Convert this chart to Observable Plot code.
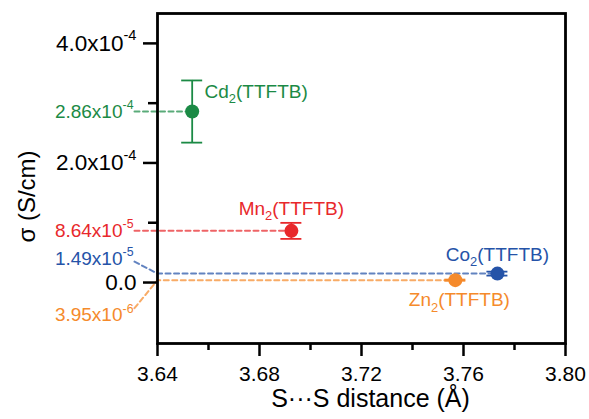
<!DOCTYPE html>
<html>
<head>
<meta charset="utf-8">
<script src="https://cdn.jsdelivr.net/npm/d3@7"></script>
<script src="https://cdn.jsdelivr.net/npm/@observablehq/plot@0.6"></script>
<style>
  html, body { margin: 0; padding: 0; background: #fff; }
  #chart svg { display: block; }
</style>
</head>
<body>
<div id="chart"></div>
<script>
// ---- data ----
const compounds = ["Cd_2(TTFTB)", "Mn_2(TTFTB)", "Co_2(TTFTB)", "Zn_2(TTFTB)"];
const distances = [3.6536, 3.6925, 3.7733, 3.7568];
const sigma = [2.86e-4, 8.64e-5, 1.49e-5, 3.95e-6];
const sigmaErr = [5.2e-5, 1.34e-5, 3.3e-6, 1.0e-6];
const sigmaLabels = ["2.86x10^-4", "8.64x10^-5", "1.49x10^-5", "3.95x10^-6"];
const colors = ["#1b8a45", "#e8282b", "#2553a8", "#f58a2b"];

const xTicks = [3.64, 3.68, 3.72, 3.76, 3.80];
const xMinorTicks = [3.66, 3.70, 3.74, 3.78];
const yTicks = [0, 2e-4, 4e-4];
const yTickLabels = ["0.0", "2.0x10^-4", "4.0x10^-4"];
const yMinorTicks = [1e-4, 3e-4];

const xTitle = "S···S distance (Å)";
const yTitle = "σ (S/cm)";

// ---- layout (pixels) ----
const W = 589, H = 419;
const margin = {top: 13, right: 24, bottom: 76, left: 157};
const xDomain = [3.64, 3.80];
const yDomain = [-1.02e-4, 4.5e-4];
const kx = (xDomain[1] - xDomain[0]) / (W - margin.left - margin.right);
const ky = (yDomain[1] - yDomain[0]) / (H - margin.top - margin.bottom);

const nameDx = [64, 0, 0, 4];
const nameDy = [-20, -22, -19, 20];
const valueLabelDx = -24;
const valueDy = [0, 0, -15, 35];
const guideStartDx = -23;
const guideStartDy = [0, 0, -12, 28];
const capHalf = 10.5;

const data = compounds.map((name, i) => ({
  name, i, x: distances[i], y: sigma[i], err: sigmaErr[i],
  label: sigmaLabels[i], color: colors[i]
}));

const guides = data.flatMap(d => [
  {name: d.name, color: d.color, x: xDomain[0] + guideStartDx * kx, y: d.y - guideStartDy[d.i] * ky},
  {name: d.name, color: d.color, x: xDomain[0], y: d.y},
  {name: d.name, color: d.color, x: d.x, y: d.y}
]);

const chart = Plot.plot({
  width: W, height: H,
  marginTop: margin.top, marginRight: margin.right,
  marginBottom: margin.bottom, marginLeft: margin.left,
  style: {fontFamily: "'Liberation Sans', Arial, sans-serif", fontSize: "21px", color: "black", background: "white", overflow: "visible"},
  x: {domain: xDomain},
  y: {domain: yDomain},
  color: {type: "identity"},
  marks: [
    Plot.line(guides, {x: "x", y: "y", z: "name", stroke: "color", strokeWidth: 2, strokeOpacity: 0.72, strokeDasharray: "5,3.5"}),
    Plot.frame({stroke: "black", strokeWidth: 2.8}),
    Plot.axisX(xTicks, {tickSize: 13, tickPadding: 10, tickFormat: d3.format(".2f"), fontSize: 21, strokeWidth: 2.5, label: null}),
    Plot.axisX(xMinorTicks, {tickSize: 7, tickFormat: () => "", strokeWidth: 2.5, label: null}),
    Plot.axisY(yTicks, {tickSize: 14, tickPadding: 7, tickFormat: d => yTickLabels[yTicks.indexOf(d)], fontSize: 22.5, strokeWidth: 2.5, label: null}),
    Plot.axisY(yMinorTicks, {tickSize: 9, tickFormat: () => "", strokeWidth: 2.5, label: null}),
    Plot.ruleX(data, {x: "x", y1: d => d.y - d.err, y2: d => d.y + d.err, stroke: "color", strokeWidth: 1.8}),
    Plot.ruleY(data, {y: d => d.y + d.err, x1: d => d.x - capHalf * kx, x2: d => d.x + capHalf * kx, stroke: "color", strokeWidth: 1.8}),
    Plot.ruleY(data, {y: d => d.y - d.err, x1: d => d.x - capHalf * kx, x2: d => d.x + capHalf * kx, stroke: "color", strokeWidth: 1.8}),
    Plot.dot(data, {x: "x", y: "y", r: 7, fill: "color", stroke: null}),
    Plot.text(data, {x: d => d.x + nameDx[d.i] * kx, y: d => d.y - nameDy[d.i] * ky, text: "name", fill: "color", fontSize: 19, textAnchor: "middle"}),
    Plot.text(data, {x: xDomain[0] + valueLabelDx * kx, y: d => d.y - valueDy[d.i] * ky, text: "label", fill: "color", fontSize: 19, textAnchor: "end"}),
    Plot.text([xTitle], {frameAnchor: "bottom", dx: 9, dy: 55, fontSize: 25, fill: "black", textAnchor: "middle", lineAnchor: "middle"}),
    Plot.text([yTitle], {frameAnchor: "left", dx: -130, dy: 18, rotate: -90, fontSize: 24, fill: "black", textAnchor: "middle", lineAnchor: "middle"})
  ]
});

document.getElementById("chart").appendChild(chart);

// rich text: ^ superscript, _ subscript
chart.querySelectorAll("text").forEach(el => {
  const s = el.textContent;
  if (!/[\^_]/.test(s)) return;
  const size = parseFloat(getComputedStyle(el).fontSize) || 18;
  el.textContent = "";
  const parts = s.split(/([\^_]-?\d+)/).filter(p => p !== "");
  let shift = 0;
  for (const p of parts) {
    const t = document.createElementNS("http://www.w3.org/2000/svg", "tspan");
    let target = 0;
    if (p[0] === "^") { target = -0.45 * size; t.setAttribute("font-size", 0.65 * size); t.textContent = p.slice(1); }
    else if (p[0] === "_") { target = 0.28 * size; t.setAttribute("font-size", 0.68 * size); t.textContent = p.slice(1); }
    else { t.textContent = p; }
    if (target !== shift) t.setAttribute("dy", target - shift);
    shift = target;
    el.appendChild(t);
  }
});
</script>
</body>
</html>
